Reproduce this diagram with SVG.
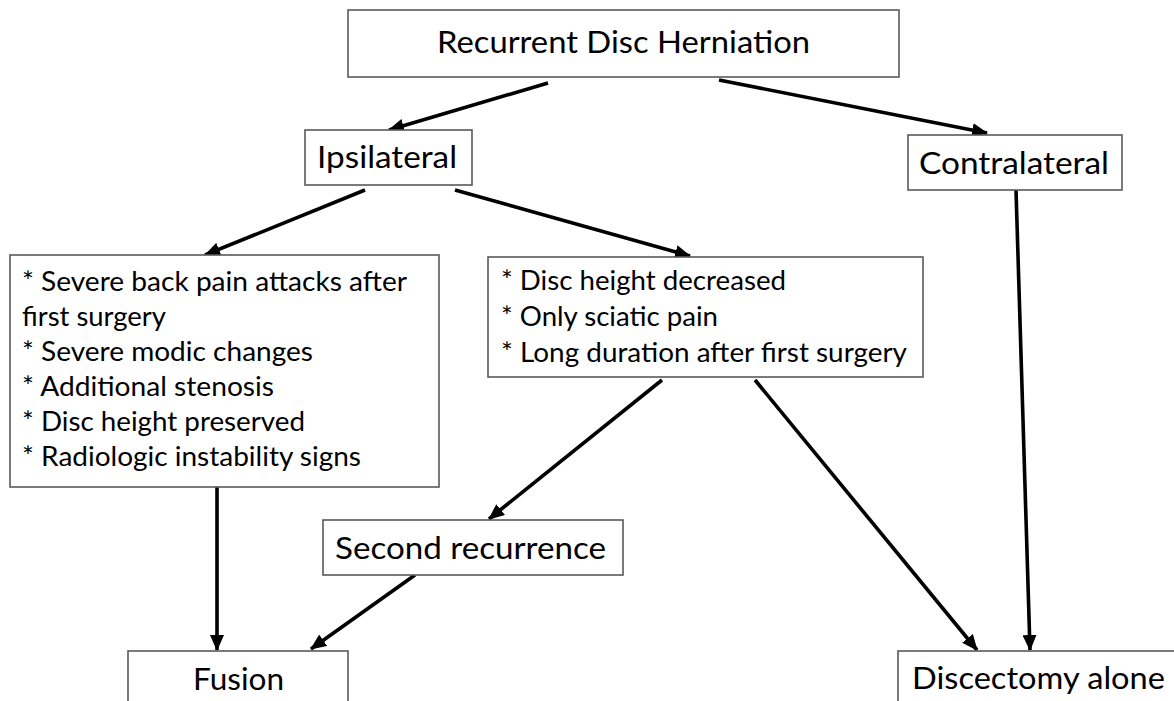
<svg xmlns="http://www.w3.org/2000/svg" width="1174" height="701" viewBox="0 0 1174 701">
<style>
.box{fill:#fff;stroke:#595959;stroke-width:1.6}
.t{font-family:Lato,"Open Sans","Liberation Sans",sans-serif;fill:#000}
.big{font-size:31.5px}
.sm{font-size:26.8px}
.c{fill:none;stroke:#000;stroke-width:3.6;marker-end:url(#ah)}
</style>
<defs>
<marker id="ah" markerUnits="userSpaceOnUse" markerWidth="16" markerHeight="14" viewBox="0 0 16 14" refX="15" refY="7" orient="auto">
<path d="M0,0 L16,7 L0,14 z" fill="#000"/>
</marker>
</defs>
<rect width="1174" height="701" fill="#fff"/>
<g id="connectors">
<line class="c" x1="548" y1="83" x2="389" y2="130"/>
<line class="c" x1="719" y1="80" x2="987" y2="133"/>
<line class="c" x1="365" y1="190" x2="205" y2="255"/>
<line class="c" x1="455" y1="190" x2="690" y2="256"/>
<line class="c" x1="1016" y1="190" x2="1030" y2="650"/>
<line class="c" x1="217" y1="487" x2="217" y2="650"/>
<line class="c" x1="662" y1="380" x2="489" y2="519"/>
<line class="c" x1="755" y1="380" x2="977" y2="650"/>
<line class="c" x1="415" y1="575" x2="311" y2="649"/>
</g>
<g id="n-root">
<rect class="box" x="348" y="10" width="551" height="67"/>
<text class="t big" x="437" y="53" textLength="373" lengthAdjust="spacingAndGlyphs">Recurrent Disc Herniation</text>
</g>
<g id="n-ipsi">
<rect class="box" x="305" y="130" width="167" height="55"/>
<text class="t big" x="317" y="168" textLength="140" lengthAdjust="spacingAndGlyphs">Ipsilateral</text>
</g>
<g id="n-contra">
<rect class="box" x="908" y="135" width="214" height="55"/>
<text class="t big" x="919" y="174" textLength="190" lengthAdjust="spacingAndGlyphs">Contralateral</text>
</g>
<g id="n-fusion-criteria">
<rect class="box" x="10" y="255" width="429" height="232"/>
<text class="t sm" x="22" y="291" textLength="385" lengthAdjust="spacingAndGlyphs">* Severe back pain attacks after</text>
<text class="t sm" x="22" y="326" textLength="144" lengthAdjust="spacingAndGlyphs">first surgery</text>
<text class="t sm" x="22" y="361" textLength="291" lengthAdjust="spacingAndGlyphs">* Severe modic changes</text>
<text class="t sm" x="22" y="396" textLength="252" lengthAdjust="spacingAndGlyphs">* Additional stenosis</text>
<text class="t sm" x="22" y="431" textLength="283" lengthAdjust="spacingAndGlyphs">* Disc height preserved</text>
<text class="t sm" x="22" y="466" textLength="339" lengthAdjust="spacingAndGlyphs">* Radiologic instability signs</text>
</g>
<g id="n-discectomy-criteria">
<rect class="box" x="488" y="257" width="435" height="120"/>
<text class="t sm" x="501" y="290" textLength="285" lengthAdjust="spacingAndGlyphs">* Disc height decreased</text>
<text class="t sm" x="501" y="326" textLength="217" lengthAdjust="spacingAndGlyphs">* Only sciatic pain</text>
<text class="t sm" x="501" y="362" textLength="406" lengthAdjust="spacingAndGlyphs">* Long duration after first surgery</text>
</g>
<g id="n-second">
<rect class="box" x="323" y="520" width="300" height="55"/>
<text class="t big" x="335" y="559" textLength="271" lengthAdjust="spacingAndGlyphs">Second recurrence</text>
</g>
<g id="n-fusion">
<rect class="box" x="128" y="651" width="220" height="80"/>
<text class="t big" x="193" y="690" textLength="91" lengthAdjust="spacingAndGlyphs">Fusion</text>
</g>
<g id="n-discectomy">
<rect class="box" x="898" y="651" width="300" height="80"/>
<text class="t big" x="912" y="689" textLength="253" lengthAdjust="spacingAndGlyphs">Discectomy alone</text>
</g>
</svg>
